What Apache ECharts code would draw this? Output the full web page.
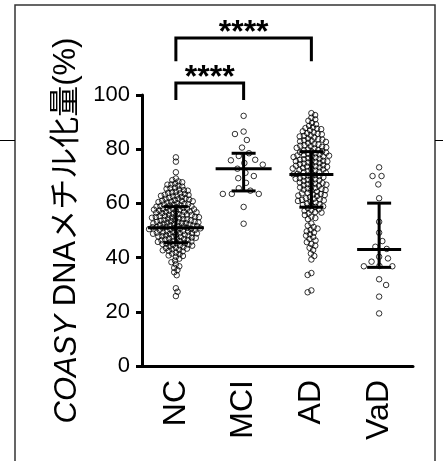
<!DOCTYPE html>
<html>
<head>
<meta charset="utf-8">
<script src="https://cdn.jsdelivr.net/npm/echarts@6/dist/echarts.min.js"></script>
<style>html,body{margin:0;padding:0;background:#fff}#main{width:443px;height:461px}</style>
</head>
<body>
<div id="main"></div>
<script>
// 群
var groups = ['NC', 'MCI', 'AD', 'VaD'];
var ncValues = [77.0, 75.4, 71.5, 69.2, 68.6, 68.1,
    67.8, 67.3, 66.9, 66.5, 66.2, 67.0,
    65.8, 65.4, 65.1, 64.7, 64.3, 64.9, 65.6, 64.1,
    63.9, 63.5, 63.2, 62.8, 62.4, 62.1, 63.7, 62.9, 63.1, 62.6,
    61.9, 61.6, 61.2, 60.8, 60.5, 60.1, 61.4, 60.9, 61.7, 60.3, 61.0, 60.6,
    59.8, 59.5, 59.2, 58.9, 58.6, 58.3, 58.0, 59.7, 59.0, 58.4, 59.3, 58.8, 58.1, 59.6,
    57.9, 57.6, 57.3, 57.0, 56.7, 56.4, 56.1, 57.8, 57.1, 56.5, 57.4, 56.8, 56.2, 57.7, 56.9,
    55.9, 55.6, 55.3, 55.0, 54.7, 54.4, 54.1, 55.8, 55.1, 54.5, 55.4, 54.8, 54.2, 55.7, 54.9, 55.2,
    53.9, 53.6, 53.3, 53.0, 52.7, 52.4, 52.1, 53.8, 53.1, 52.5, 53.4, 52.8, 52.2, 53.7, 52.9, 53.2, 52.6,
    51.9, 51.6, 51.3, 51.0, 50.7, 50.4, 50.1, 51.8, 51.1, 50.5, 51.4, 50.8, 50.2, 51.7, 50.9, 51.2, 50.6, 51.5,
    49.9, 49.6, 49.3, 49.0, 48.7, 48.4, 48.1, 49.8, 49.1, 48.5, 49.4, 48.8, 48.2, 49.7, 48.9, 49.2,
    47.9, 47.6, 47.3, 47.0, 46.7, 46.4, 46.1, 47.8, 47.1, 46.5, 47.4, 46.8, 46.2, 47.7,
    45.9, 45.6, 45.3, 45.0, 44.7, 44.4, 44.1, 45.8, 45.1, 44.5, 45.4, 44.8,
    43.9, 43.5, 43.1, 42.7, 42.3, 43.7, 42.9, 42.5, 43.3,
    41.8, 41.3, 40.8, 40.3, 41.5, 40.6,
    39.6, 38.9, 38.3, 37.5, 36.8, 36.2, 35.4, 34.6, 33.5,
    28.7, 27.4, 25.8];
var mciValues = [92.3, 86.5, 85.6, 83.4, 80.6, 78.5, 77.5, 76.1, 75.9, 74.9, 74.3, 72.8,
    71.3, 70.1, 69.3, 67.6, 65.6, 64.7, 63.5, 63.5, 63.5, 58.7, 52.5];
var adValues = [93.3, 92.6, 91.6, 91.0, 90.5, 89.7, 89.2, 88.6, 88.1,
    87.8, 87.4, 87.0, 86.6, 86.2, 87.6,
    85.9, 85.5, 85.1, 84.7, 84.3, 85.7, 84.9,
    83.9, 83.5, 83.1, 82.7, 82.3, 83.7, 82.9, 83.3,
    81.9, 81.5, 81.1, 80.7, 80.3, 81.7, 80.9, 81.3, 80.5,
    79.9, 79.5, 79.1, 78.7, 78.3, 79.7, 78.9, 79.3, 78.5, 78.1,
    77.9, 77.5, 77.1, 76.7, 76.3, 77.7, 76.9, 77.3, 76.5, 76.1, 77.6,
    75.9, 75.5, 75.1, 74.7, 74.3, 75.7, 74.9, 75.3, 74.5, 74.1, 75.6,
    73.9, 73.5, 73.1, 72.7, 72.3, 73.7, 72.9, 73.3, 72.5, 72.1, 73.6,
    71.9, 71.5, 71.1, 70.7, 70.3, 71.7, 70.9, 71.3, 70.5, 70.1,
    69.9, 69.5, 69.1, 68.7, 68.3, 69.7, 68.9, 69.3, 68.5,
    67.9, 67.5, 67.1, 66.7, 66.3, 67.7, 66.9, 67.3, 66.5,
    65.9, 65.5, 65.1, 64.7, 64.3, 65.7, 64.9, 65.3,
    63.9, 63.5, 63.1, 62.7, 62.3, 63.7, 62.9, 63.3,
    61.9, 61.5, 61.1, 60.7, 60.3, 61.7, 60.9, 61.3,
    59.9, 59.5, 59.1, 58.7, 58.3, 59.7, 58.9,
    57.8, 57.3, 56.8, 56.3, 57.5, 56.6,
    55.7, 55.1, 54.6, 54.2, 52.6,
    51.8, 51.3, 50.7, 50.2, 49.7, 49.2, 48.6, 48.1,
    47.6, 46.9, 46.3, 45.7, 45.0, 44.4, 43.6, 42.8, 41.5, 40.6, 39.3,
    34.3, 33.6, 27.9, 27.2];
var vadValues = [73.3, 70.1, 70.1, 67.0, 61.9, 53.2, 49.2, 46.1, 44.0, 43.2,
    40.3, 39.7, 38.5, 36.9, 36.8, 36.8, 32.0, 29.9, 25.6, 19.4];
// 中央値・四分位範囲
var centerValues = [51.0, 72.8, 70.7, 43.0];
var lowValues = [45.5, 64.6, 58.6, 36.4];
var highValues = [58.8, 78.5, 79.1, 60.1];
// 有意差の比較
var comparisons = [[0, 1, '****'], [0, 2, '****']];

var FONT = "'Liberation Sans', Arial, 'Noto Sans CJK JP', sans-serif";
var GRID = {left: 142, top: 95, width: 271, height: 271};
var PX_PER_UNIT = GRID.height / 100;
var PX_PER_CAT = GRID.width / groups.length;
var lineHalf = [28, 28, 22, 22];
var bracketLevels = [[104.4, 98.2], [121, 112.5]];

// ビースウォーム配置（ピクセル単位で重なりを避ける）
function swarm(values, gi, d) {
    var sorted = values.slice().sort(function (a, b) { return b - a; });
    var placed = [];
    var flip = 1;
    sorted.forEach(function (v) {
        var y = v * PX_PER_UNIT;
        var near = placed.filter(function (p) { return Math.abs(p[1] - y) < d; });
        var cands = [0];
        near.forEach(function (p) {
            var dx = Math.sqrt(d * d - (p[1] - y) * (p[1] - y));
            cands.push(p[0] + dx, p[0] - dx);
        });
        cands.sort(function (a, b) {
            return (Math.abs(a) - Math.abs(b)) || (a - b) * flip;
        });
        var x = 0;
        for (var c = 0; c < cands.length; c++) {
            var ok = near.every(function (p) {
                var ddx = p[0] - cands[c], ddy = p[1] - y;
                return ddx * ddx + ddy * ddy >= d * d - 1e-6;
            });
            if (ok) { x = cands[c]; break; }
        }
        flip = -flip;
        placed.push([x, y]);
    });
    return placed.map(function (p) { return [gi + p[0] / PX_PER_CAT, p[1] / PX_PER_UNIT]; });
}

var points = []
    .concat(swarm(ncValues, 0, 3.9))
    .concat(swarm(mciValues, 1, 9))
    .concat(swarm(adValues, 2, 4.2))
    .concat(swarm(vadValues, 3, 9));

var statsData = groups.map(function (g, i) {
    return [i, centerValues[i], lowValues[i], highValues[i]];
});

var myChart = echarts.init(document.getElementById('main'));
myChart.setOption({
    backgroundColor: '#fff',
    animation: false,
    textStyle: {fontFamily: FONT},
    grid: {left: GRID.left, top: GRID.top, width: GRID.width, height: GRID.height, outerBoundsMode: 'none'},
    graphic: [
        {type: 'rect', shape: {x: 15, y: 5, width: 420, height: 520}, style: {fill: 'none', stroke: '#333', lineWidth: 1.5}, z: -1},
        {type: 'line', shape: {x1: 0, y1: 140.5, x2: 15, y2: 140.5}, style: {stroke: '#000', lineWidth: 1}},
        {type: 'line', shape: {x1: 435, y1: 140.5, x2: 443, y2: 140.5}, style: {stroke: '#000', lineWidth: 1}}
    ],
    xAxis: [{
        type: 'category',
        data: groups,
        axisLine: {onZero: false, lineStyle: {color: '#000', width: 3}},
        axisTick: {alignWithLabel: true, length: 6, lineStyle: {color: '#000', width: 3}},
        axisLabel: {rotate: 90, fontSize: 32, color: '#000', margin: 14, fontFamily: FONT}
    }, {
        type: 'value', min: -0.5, max: 3.5, show: false
    }],
    yAxis: {
        type: 'value',
        min: 0, max: 100, interval: 20,
        splitLine: {show: false},
        axisLine: {show: true, onZero: false, lineStyle: {color: '#000', width: 3}},
        axisTick: {show: true, length: 6, lineStyle: {color: '#000', width: 3}},
        axisLabel: {fontSize: 22, color: '#000', margin: 12, fontFamily: FONT},
        name: '{i|COASY}{n| DNAメチル化量(%)}',
        nameLocation: 'middle',
        nameGap: 54,
        nameTextStyle: {
            color: '#000',
            rich: {
                i: {fontSize: 31, fontStyle: 'italic', fontFamily: FONT, color: '#000'},
                n: {fontSize: 31, fontFamily: FONT, color: '#000'}
            }
        }
    },
    series: [{
        type: 'scatter',
        xAxisIndex: 1,
        data: points,
        symbol: 'circle',
        symbolSize: 5.5,
        itemStyle: {color: 'rgba(255,255,255,0)', borderColor: '#000', borderWidth: 1},
        z: 2
    }, {
        type: 'custom',
        xAxisIndex: 0,
        data: statsData,
        z: 3,
        renderItem: function (params, api) {
            var i = api.value(0);
            var c = api.coord([i, api.value(1)]);
            var lo = api.coord([i, api.value(2)]);
            var hi = api.coord([i, api.value(3)]);
            var half = lineHalf[i], cap = 12;
            var st = {stroke: '#000', lineWidth: 3};
            return {type: 'group', children: [
                {type: 'line', shape: {x1: c[0] - half, y1: c[1], x2: c[0] + half, y2: c[1]}, style: st},
                {type: 'line', shape: {x1: lo[0], y1: lo[1], x2: hi[0], y2: hi[1]}, style: st},
                {type: 'line', shape: {x1: lo[0] - cap, y1: lo[1], x2: lo[0] + cap, y2: lo[1]}, style: st},
                {type: 'line', shape: {x1: hi[0] - cap, y1: hi[1], x2: hi[0] + cap, y2: hi[1]}, style: st}
            ]};
        }
    }, {
        type: 'custom',
        xAxisIndex: 0,
        data: comparisons.map(function (c, k) { return [c[0], c[1], k]; }),
        clip: false,
        z: 3,
        renderItem: function (params, api) {
            var k = api.value(2);
            var lv = bracketLevels[k];
            var a = api.coord([api.value(0), lv[0]]);
            var b = api.coord([api.value(1), lv[0]]);
            var foot = api.coord([api.value(0), lv[1]])[1];
            return {type: 'group', children: [
                {type: 'polyline', shape: {points: [[a[0], foot], [a[0], a[1]], [b[0], b[1]], [b[0], foot]]},
                    style: {stroke: '#000', lineWidth: 3, fill: 'none'}},
                {type: 'text', x: (a[0] + b[0]) / 2, y: a[1] - 5,
                    style: {text: comparisons[k][2], fontSize: 32, fontWeight: 'bold', fontFamily: FONT,
                        fill: '#000', align: 'center', verticalAlign: 'middle'}}
            ]};
        }
    }]
});
</script>
</body>
</html>
